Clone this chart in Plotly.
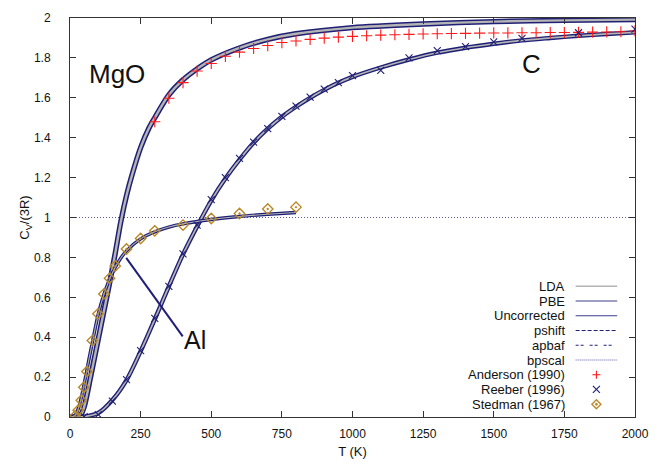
import plotly.graph_objects as go

# ---------------- data ----------------
T_mgo = [0, 20, 30, 40, 50, 60, 70, 80, 90, 100, 120, 140, 160, 180, 200, 220, 250, 280, 300,
         350, 400, 450, 500, 600, 700, 800, 1000, 1250, 1500, 1750, 2000]
cv_mgo = [0, 0.0, 0.002, 0.015, 0.05, 0.11, 0.18, 0.25, 0.32, 0.39, 0.53, 0.67, 0.82, 0.98, 1.11,
          1.215, 1.35, 1.45, 1.50, 1.615, 1.69, 1.745, 1.79, 1.85, 1.893, 1.921, 1.952, 1.970,
          1.982, 1.988, 1.992]

T_c = [0, 50, 100, 150, 200, 250, 300, 350, 400, 450, 500, 550, 600, 650, 700, 750, 800, 850,
       900, 950, 1000, 1100, 1200, 1300, 1400, 1500, 1600, 1700, 1800, 1900, 2000]
cv_c = [0, 0.002, 0.02, 0.085, 0.185, 0.33, 0.49, 0.655, 0.815, 0.955, 1.085, 1.195, 1.29, 1.375,
        1.445, 1.505, 1.555, 1.60, 1.64, 1.675, 1.705, 1.752, 1.792, 1.826, 1.851, 1.871, 1.888,
        1.90, 1.911, 1.92, 1.928]

T_al = [0, 10, 20, 30, 40, 50, 60, 70, 80, 90, 100, 120, 140, 160, 180, 200, 250, 300, 350, 400,
        500, 600, 700, 800]
cv_al = [0, 0.002, 0.012, 0.045, 0.097, 0.165, 0.238, 0.31, 0.38, 0.45, 0.515, 0.615, 0.69, 0.75,
         0.797, 0.833, 0.893, 0.928, 0.952, 0.968, 0.99, 1.005, 1.016, 1.025]

anderson_T = [300, 350, 400, 450, 500, 550, 600, 650, 700, 750, 800, 850, 900, 950, 1000, 1050,
              1100, 1150, 1200, 1250, 1300, 1350, 1400, 1450, 1500, 1550, 1600, 1650, 1700, 1750,
              1800, 1850, 1900, 1950, 2000]
anderson_cv = [1.48, 1.598, 1.676, 1.734, 1.772, 1.808, 1.829, 1.847, 1.862, 1.877, 1.885, 1.893,
               1.899, 1.904, 1.908, 1.911, 1.914, 1.916, 1.918, 1.920, 1.921, 1.922, 1.923, 1.924,
               1.925, 1.925, 1.926, 1.926, 1.927, 1.927, 1.928, 1.929, 1.930, 1.931, 1.935]

reeber_T = [50, 100, 150, 200, 250, 300, 350, 400, 450, 500, 550, 600, 650, 700, 750, 800, 850,
            900, 950, 1000, 1100, 1200, 1300, 1400, 1500, 1600, 1800, 2000]
reeber_cv = [0.002, 0.012, 0.08, 0.187, 0.333, 0.494, 0.655, 0.818, 0.962, 1.09, 1.20, 1.296,
             1.378, 1.446, 1.507, 1.558, 1.603, 1.643, 1.676, 1.711, 1.737, 1.80, 1.836, 1.857,
             1.88, 1.898, 1.926, 1.944]

stedman_T = [18, 29, 40, 49, 60, 79, 99, 120, 140, 160, 200, 250, 300, 400, 500, 600, 700, 800]
stedman_cv = [0.005, 0.034, 0.084, 0.149, 0.228, 0.383, 0.517, 0.617, 0.695, 0.757, 0.842, 0.895,
              0.933, 0.962, 0.995, 1.020, 1.043, 1.052]

x_ticks = [0, 250, 500, 750, 1000, 1250, 1500, 1750, 2000]
y_ticks = [0, 0.2, 0.4, 0.6, 0.8, 1, 1.2, 1.4, 1.6, 1.8, 2]

legend_lines = ["LDA", "PBE", "Uncorrected", "pshift", "apbaf", "bpscal"]
legend_points = ["Anderson (1990)", "Reeber (1996)", "Stedman (1967)"]

# ---------------- styles ----------------
NAVY = "#1f1f76"
GREY = "#b4b4b4"
RED = "#ff1a1a"
GOLD = "#b8892a"
FONT = "Liberation Sans, Arial, Helvetica, sans-serif"

fig = go.Figure()

# theory bands: navy underlay (Uncorrected/PBE) with the grey LDA curve on top
for T, cv, wn, wg in [(T_mgo, cv_mgo, 5.4, 2.4), (T_c, cv_c, 4.4, 1.7), (T_al, cv_al, 3.4, 1.1)]:
    fig.add_trace(go.Scatter(x=T, y=cv, mode="lines", name="PBE",
                             line=dict(color=NAVY, width=wn, shape="spline", smoothing=0.8),
                             hoverinfo="skip"))
    fig.add_trace(go.Scatter(x=T, y=cv, mode="lines", name="LDA",
                             line=dict(color=GREY, width=wg, shape="spline", smoothing=0.8),
                             hoverinfo="skip"))

fig.add_trace(go.Scatter(x=anderson_T, y=anderson_cv, mode="markers", name=legend_points[0],
                         marker=dict(symbol="cross-thin", size=8,
                                     line=dict(color=RED, width=1.1), color=RED)))
fig.add_trace(go.Scatter(x=reeber_T, y=reeber_cv, mode="markers", name=legend_points[1],
                         marker=dict(symbol="x-thin", size=7,
                                     line=dict(color=NAVY, width=1.1), color=NAVY)))
fig.add_trace(go.Scatter(x=stedman_T, y=stedman_cv, mode="markers", name=legend_points[2],
                         marker=dict(symbol="diamond-open-dot", size=8,
                                     line=dict(color=GOLD, width=1.4), color=GOLD)))

shapes = []
annotations = []

# dotted reference line at Cv/(3R) = 1
shapes.append(dict(type="line", xref="paper", yref="y", x0=0, x1=1, y0=1, y1=1,
                   line=dict(color="#5a5aa8", width=1, dash="1px,2px"), layer="below"))
# pointer line to Al
shapes.append(dict(type="line", xref="x", yref="y", x0=199, y0=0.798, x1=399, y1=0.404,
                   line=dict(color=NAVY, width=2)))

# material labels
for txt, xx, yy, fs in [("MgO", 166, 1.72, 26), ("C", 1632, 1.77, 26), ("Al", 441, 0.385, 25)]:
    annotations.append(dict(text=txt, x=xx, y=yy, xref="x", yref="y", showarrow=False,
                            xanchor="center", yanchor="middle",
                            font=dict(size=fs, family=FONT, color="#111")))

# manual gnuplot-style key (text, then sample)
PW, PH, PL, PB = 571.0, 406.0, 70.0, 417.0
def px(xp):
    return (xp - PL) / PW
def py(yp):
    return (PB - yp) / PH

rows = [284, 299, 314, 329, 344, 359, 374, 389, 404]
labels = legend_lines + legend_points
for lab, r in zip(labels, rows):
    annotations.append(dict(text=lab, x=px(572), y=py(r), xref="paper", yref="paper",
                            showarrow=False, xanchor="right", yanchor="middle",
                            font=dict(size=13, family=FONT, color="#111")))

line_styles = [(GREY, "solid", 1.6), ("#3c3c8e", "solid", 1.1), ("#3c3c8e", "solid", 1.1),
               (NAVY, "4px,2px", 1), (NAVY, "3px,2px,3px,6px", 1), ("#5a5aa8", "1px,1px", 1)]
for (c, d, w), r in zip(line_styles, rows[:6]):
    shapes.append(dict(type="line", xref="paper", yref="paper", x0=px(581), x1=px(623),
                       y0=py(r), y1=py(r), line=dict(color=c, width=w, dash=d)))

mx = px(602)
# plus
r = rows[6]
for (a0, a1, b0, b1) in [(-4, 4, 0, 0), (0, 0, -4, 4)]:
    shapes.append(dict(type="line", xref="paper", yref="paper", xsizemode="pixel",
                       ysizemode="pixel", xanchor=mx, yanchor=py(r), x0=a0, x1=a1, y0=b0, y1=b1,
                       line=dict(color=RED, width=1.1)))
# cross
r = rows[7]
for (a0, a1, b0, b1) in [(-3.5, 3.5, -3.5, 3.5), (-3.5, 3.5, 3.5, -3.5)]:
    shapes.append(dict(type="line", xref="paper", yref="paper", xsizemode="pixel",
                       ysizemode="pixel", xanchor=mx, yanchor=py(r), x0=a0, x1=a1, y0=b0, y1=b1,
                       line=dict(color=NAVY, width=1.1)))
# diamond with dot
r = rows[8]
shapes.append(dict(type="path", xref="paper", yref="paper", xsizemode="pixel",
                   ysizemode="pixel", xanchor=mx, yanchor=py(r),
                   path="M -4.5 0 L 0 4.5 L 4.5 0 L 0 -4.5 Z",
                   line=dict(color=GOLD, width=1.4)))
shapes.append(dict(type="circle", xref="paper", yref="paper", xsizemode="pixel",
                   ysizemode="pixel", xanchor=mx, yanchor=py(r), x0=-1, x1=1, y0=-1, y1=1,
                   line=dict(color=GOLD, width=1), fillcolor=GOLD))

axis_common = dict(showgrid=False, zeroline=False, showline=True, linecolor="#333",
                   linewidth=1, mirror="ticks", ticks="inside", ticklen=6, tickwidth=1,
                   tickcolor="#333", tickfont=dict(size=12, family=FONT, color="#111"))

fig.update_layout(
    width=660, height=468,
    margin=dict(l=70, r=19, t=11, b=51),
    paper_bgcolor="white", plot_bgcolor="white",
    showlegend=False,
    font=dict(family=FONT, size=12, color="#111"),
    xaxis=dict(range=[0, 2000], tickvals=x_ticks, ticklabelstandoff=6,
               title=dict(text="T (K)", font=dict(size=13, family=FONT), standoff=6),
               **axis_common),
    yaxis=dict(range=[0, 2], tickvals=y_ticks, ticklabelstandoff=16,
               title=dict(text="C<sub>V</sub>/(3R)", font=dict(size=13, family=FONT), standoff=1),
               **axis_common),
    shapes=shapes,
    annotations=annotations,
)

fig.write_html("out.html")
